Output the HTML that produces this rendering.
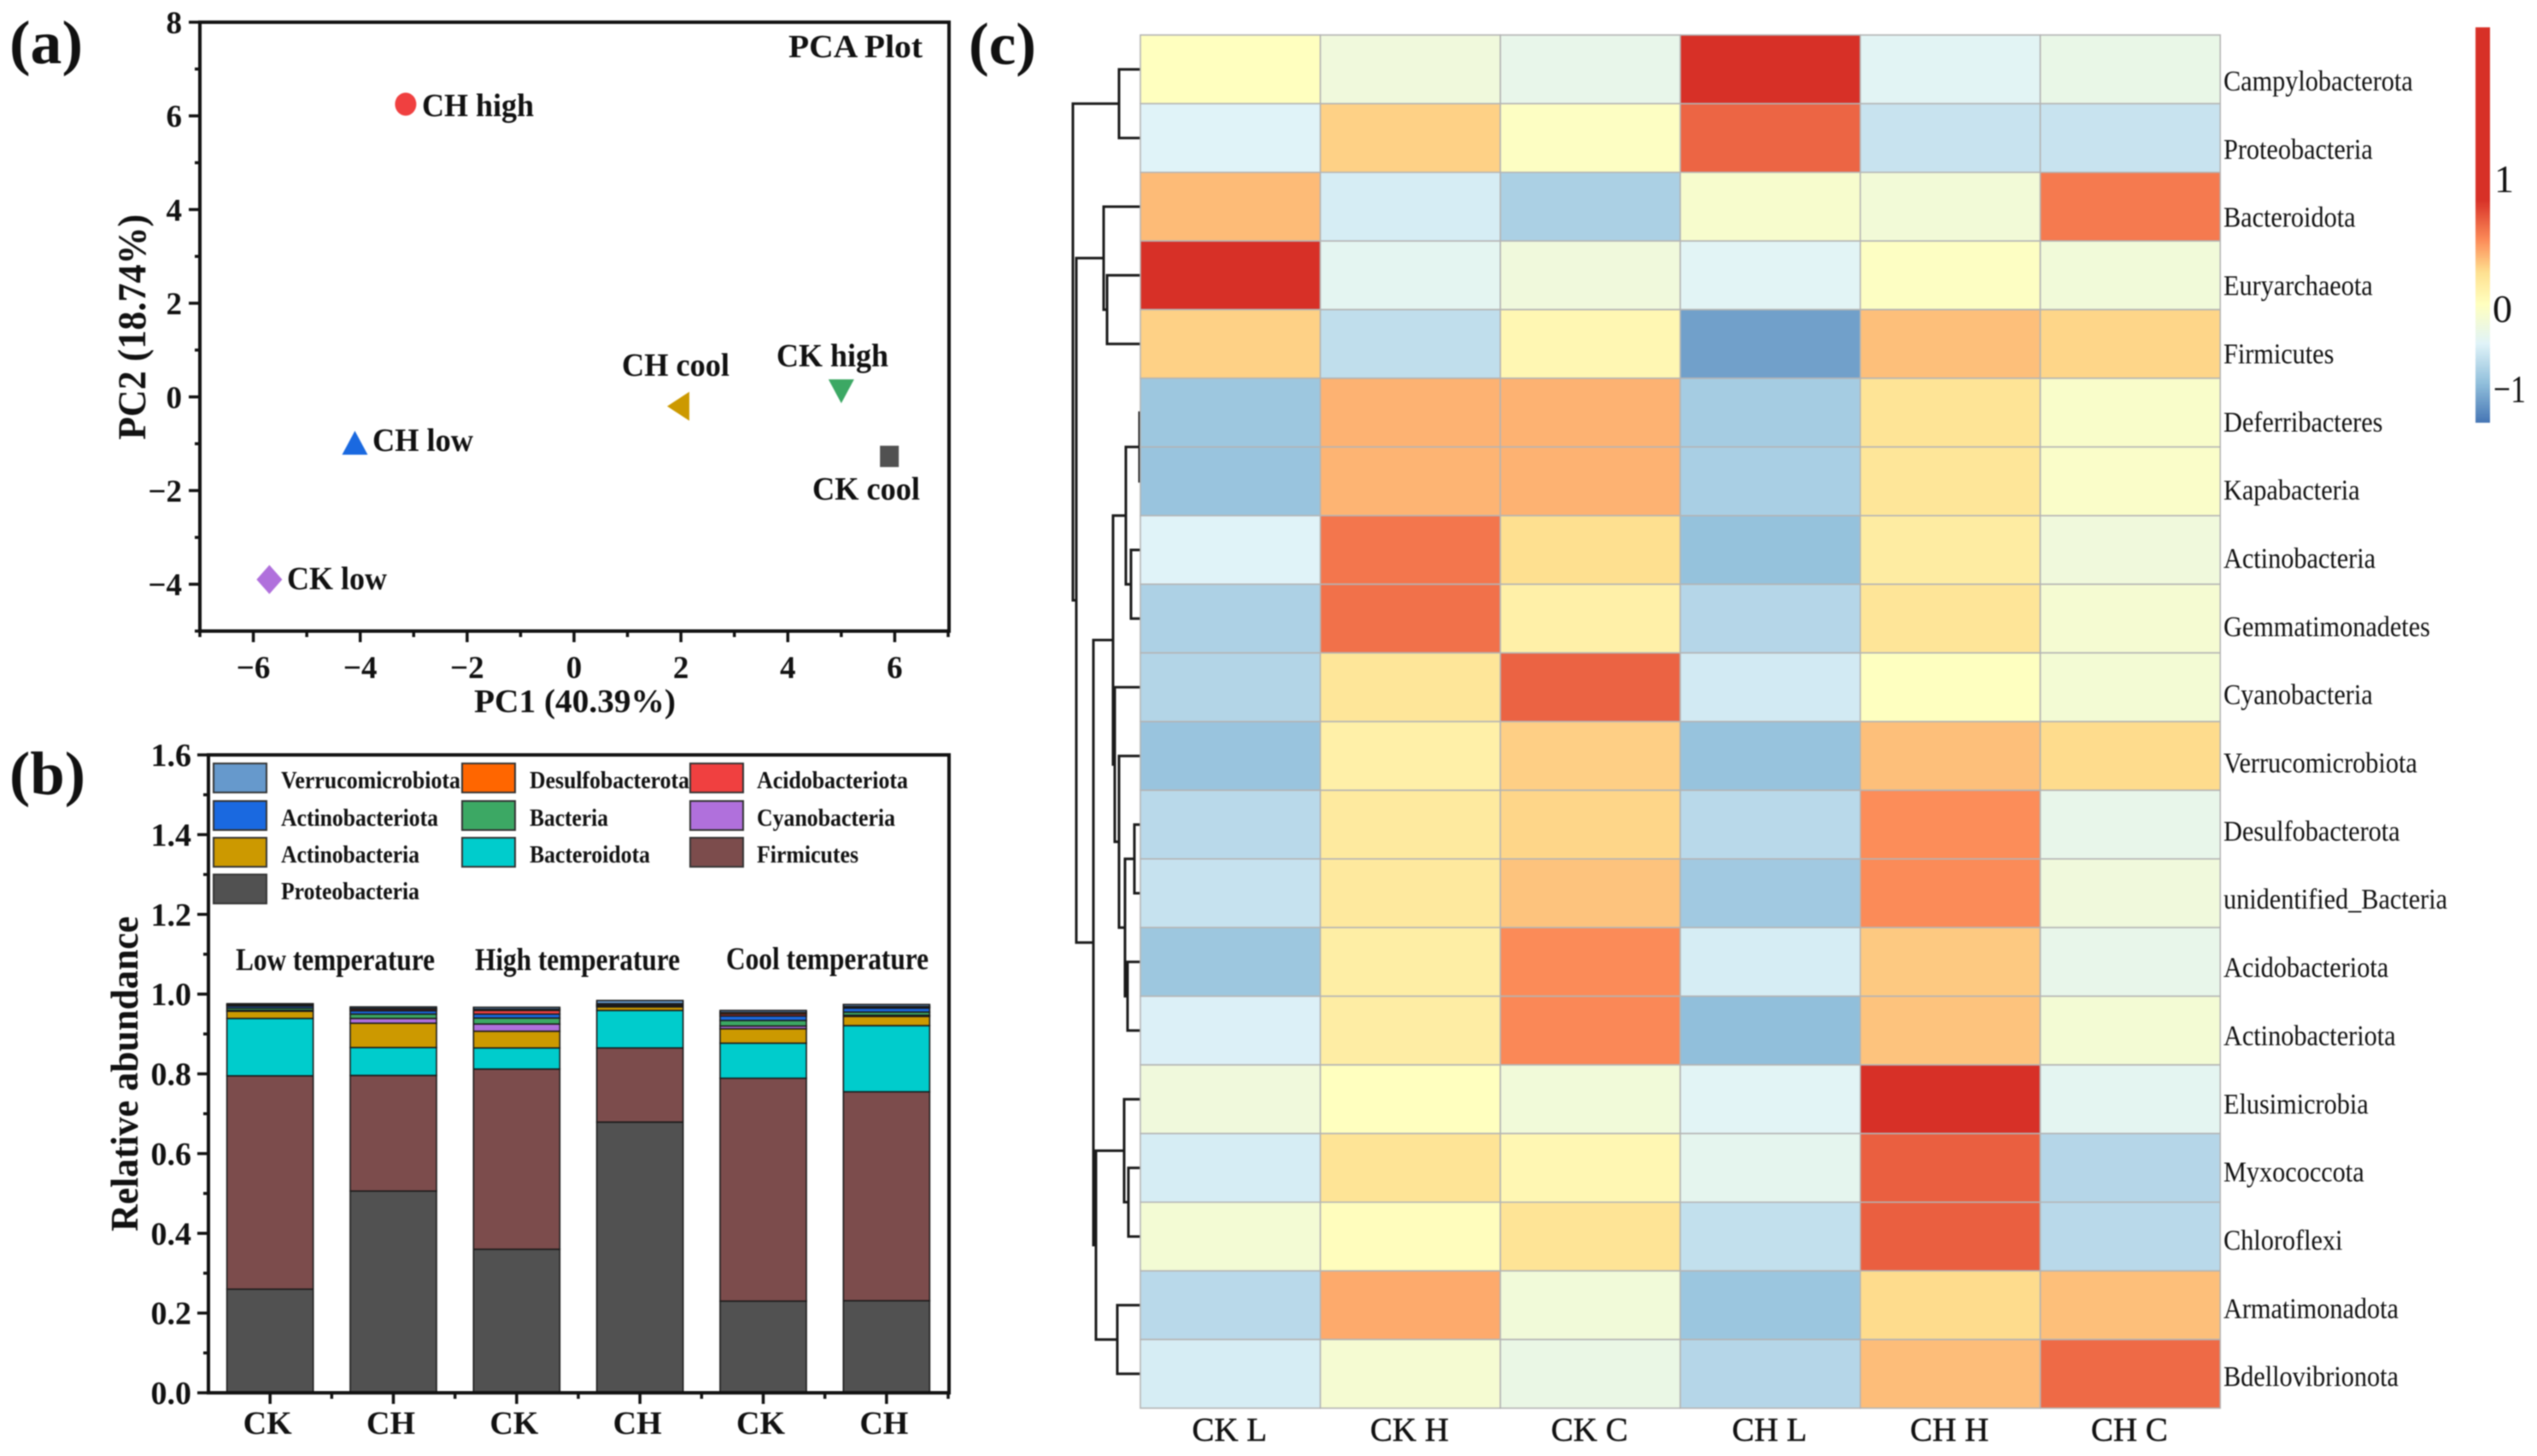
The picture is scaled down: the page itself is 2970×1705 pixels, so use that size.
<!DOCTYPE html>
<html lang="en">
<head>
<meta charset="utf-8">
<title>PCA, relative abundance and heatmap figure</title>
<style>
html,body{margin:0;padding:0;background:#fff;}
#figure{display:block;width:2970px;height:1705px;filter:blur(0.7px);}
text{font-family:"Liberation Serif",serif;fill:#111;}
.b{font-weight:bold;}
</style>
</head>
<body>
<svg id="figure" xmlns="http://www.w3.org/2000/svg" width="2970" height="1705" viewBox="0 0 2970 1705">
  <defs>
    <linearGradient id="cbGrad" x1="0" y1="0" x2="0" y2="1">
      <stop offset="0" stop-color="#D73027"/>
      <stop offset="0.436" stop-color="#D73027"/>
      <stop offset="0.54" stop-color="#FC8D59"/>
      <stop offset="0.62" stop-color="#FEE090"/>
      <stop offset="0.70" stop-color="#FFFFBF"/>
      <stop offset="0.80" stop-color="#E0F3F8"/>
      <stop offset="0.90" stop-color="#91BFDB"/>
      <stop offset="1" stop-color="#4575B4"/>
    </linearGradient>
  </defs>
  <rect x="0" y="0" width="2970" height="1705" fill="#fff"/>

  <text class="b" x="11" y="74" font-size="72" textLength="86" lengthAdjust="spacingAndGlyphs">(a)</text>
  <text class="b" x="11" y="930" font-size="72" textLength="89" lengthAdjust="spacingAndGlyphs">(b)</text>
  <text class="b" x="1134" y="75" font-size="70" textLength="79" lengthAdjust="spacingAndGlyphs">(c)</text>

  <g id="pca">
    <rect x="234" y="26" width="877" height="713" fill="none" stroke="#111" stroke-width="4"/>
    <g id="pca-axes"></g>
    <g id="pca-points"></g>
    <text class="b" x="923" y="67" font-size="38" textLength="157" lengthAdjust="spacingAndGlyphs">PCA Plot</text>
    <text class="b" x="555" y="834" font-size="39" textLength="236" lengthAdjust="spacingAndGlyphs">PC1 (40.39%)</text>
    <text class="b" transform="translate(170,515) rotate(-90)" x="0" y="0" font-size="47" textLength="264" lengthAdjust="spacingAndGlyphs">PC2 (18.74%)</text>
    <text class="b" x="494" y="136" font-size="38" textLength="131" lengthAdjust="spacingAndGlyphs">CH high</text>
    <text class="b" x="436" y="528" font-size="38" textLength="118" lengthAdjust="spacingAndGlyphs">CH low</text>
    <text class="b" x="336" y="690" font-size="38" textLength="117" lengthAdjust="spacingAndGlyphs">CK low</text>
    <text class="b" x="728" y="440" font-size="38" textLength="126" lengthAdjust="spacingAndGlyphs">CH cool</text>
    <text class="b" x="909" y="429" font-size="38" textLength="131" lengthAdjust="spacingAndGlyphs">CK high</text>
    <text class="b" x="951" y="585" font-size="38" textLength="126" lengthAdjust="spacingAndGlyphs">CK cool</text>
  </g>

  <g id="bars">
    <g id="bar-marks"></g>
    <rect x="244" y="884" width="867" height="747" fill="none" stroke="#111" stroke-width="4"/>
    <g id="bar-axes"></g>
    <text class="b" transform="translate(161,1442) rotate(-90)" x="0" y="0" font-size="46" textLength="369" lengthAdjust="spacingAndGlyphs">Relative abundance</text>
    <text class="b" x="276" y="1136" font-size="37" textLength="233" lengthAdjust="spacingAndGlyphs">Low temperature</text>
    <text class="b" x="556" y="1136" font-size="37" textLength="240" lengthAdjust="spacingAndGlyphs">High temperature</text>
    <text class="b" x="850" y="1135" font-size="37" textLength="237" lengthAdjust="spacingAndGlyphs">Cool temperature</text>

    <g>
      <g><rect x="250" y="894" width="62" height="34" fill="#6699CC" stroke="#333" stroke-width="2"/><text class="b" x="329" y="923" font-size="29" textLength="210" lengthAdjust="spacingAndGlyphs">Verrucomicrobiota</text></g>
      <g><rect x="541" y="894" width="62" height="34" fill="#FF6600" stroke="#333" stroke-width="2"/><text class="b" x="620" y="923" font-size="29" textLength="187" lengthAdjust="spacingAndGlyphs">Desulfobacterota</text></g>
      <g><rect x="808" y="894" width="62" height="34" fill="#F04040" stroke="#333" stroke-width="2"/><text class="b" x="886" y="923" font-size="29" textLength="177" lengthAdjust="spacingAndGlyphs">Acidobacteriota</text></g>
      <g><rect x="250" y="938" width="62" height="34" fill="#1A69E0" stroke="#333" stroke-width="2"/><text class="b" x="329" y="967" font-size="29" textLength="184" lengthAdjust="spacingAndGlyphs">Actinobacteriota</text></g>
      <g><rect x="541" y="938" width="62" height="34" fill="#3CA864" stroke="#333" stroke-width="2"/><text class="b" x="620" y="967" font-size="29" textLength="92" lengthAdjust="spacingAndGlyphs">Bacteria</text></g>
      <g><rect x="808" y="938" width="62" height="34" fill="#B070DC" stroke="#333" stroke-width="2"/><text class="b" x="886" y="967" font-size="29" textLength="162" lengthAdjust="spacingAndGlyphs">Cyanobacteria</text></g>
      <g><rect x="250" y="981" width="62" height="34" fill="#CC9900" stroke="#333" stroke-width="2"/><text class="b" x="329" y="1010" font-size="29" textLength="162" lengthAdjust="spacingAndGlyphs">Actinobacteria</text></g>
      <g><rect x="541" y="981" width="62" height="34" fill="#00CCCC" stroke="#333" stroke-width="2"/><text class="b" x="620" y="1010" font-size="29" textLength="141" lengthAdjust="spacingAndGlyphs">Bacteroidota</text></g>
      <g><rect x="808" y="981" width="62" height="34" fill="#7C4C4C" stroke="#333" stroke-width="2"/><text class="b" x="886" y="1010" font-size="29" textLength="119" lengthAdjust="spacingAndGlyphs">Firmicutes</text></g>
      <g><rect x="250" y="1024" width="62" height="34" fill="#515151" stroke="#333" stroke-width="2"/><text class="b" x="329" y="1053" font-size="29" textLength="162" lengthAdjust="spacingAndGlyphs">Proteobacteria</text></g>
    </g>
  </g>

  <g id="heatmap">
    <g id="dendrogram"></g>
    <g id="heat-cells"></g>
    <g id="heat-row-labels"></g>
    <g id="heat-col-labels"></g>
    <g>
      <rect x="2898" y="32" width="17" height="463" fill="url(#cbGrad)"/>
      <text x="2920" y="225" font-size="46">1</text>
      <text x="2918" y="377" font-size="46">0</text>
      <text x="2919" y="471" font-size="46" textLength="38" lengthAdjust="spacingAndGlyphs">−1</text>
    </g>
  </g>
</svg>

<script>
/* ---------- PCA data ---------- */
const pointNames = ["CK cool", "CH high", "CH low", "CK high", "CH cool", "CK low"];
const pc1Values = [5.9, -3.15, -4.1, 5.0, 1.95, -5.7];
const pc2Values = [-1.27, 6.25, -0.98, 0.12, -0.2, -3.9];
const pointShapes = ["square", "circle", "up", "down", "left", "diamond"];
const pointColors = ["#515151", "#F04040", "#1A69E0", "#3CA864", "#CC9900", "#B070DC"];
const pcaXTicks = [-6, -4, -2, 0, 2, 4, 6];
const pcaYTicks = [-4, -2, 0, 2, 4, 6, 8];

/* ---------- stacked bar data ---------- */
const barCategories = ["CK", "CH", "CK", "CH", "CK", "CH"];
const proteobacteria = [0.26, 0.506, 0.36, 0.679, 0.23, 0.231];
const firmicutes = [0.535, 0.29, 0.452, 0.186, 0.559, 0.524];
const bacteroidota = [0.144, 0.07, 0.053, 0.094, 0.088, 0.166];
const actinobacteria = [0.018, 0.061, 0.042, 0.009, 0.036, 0.023];
const cyanobacteria = [0.002, 0.012, 0.018, 0.001, 0.007, 0.003];
const bacteria = [0.006, 0.011, 0.015, 0.002, 0.014, 0.008];
const actinobacteriota = [0.005, 0.008, 0.01, 0.001, 0.011, 0.01];
const acidobacteriota = [0.002, 0.004, 0.009, 0.002, 0.005, 0.002];
const desulfobacterota = [0.002, 0.002, 0.003, 0.002, 0.004, 0.002];
const verrucomicrobiota = [0.002, 0.004, 0.005, 0.008, 0.005, 0.005];
const abundanceTicks = ["0.0", "0.2", "0.4", "0.6", "0.8", "1.0", "1.2", "1.4", "1.6"];

/* ---------- heatmap data ---------- */
const heatRows = ["Campylobacterota", "Proteobacteria", "Bacteroidota", "Euryarchaeota", "Firmicutes", "Deferribacteres", "Kapabacteria", "Actinobacteria", "Gemmatimonadetes", "Cyanobacteria", "Verrucomicrobiota", "Desulfobacterota", "unidentified_Bacteria", "Acidobacteriota", "Actinobacteriota", "Elusimicrobia", "Myxococcota", "Chloroflexi", "Armatimonadota", "Bdellovibrionota"];
const heatCols = ["CK L", "CK H", "CK C", "CH L", "CH H", "CH C"];
const heatValues = [
  [0, -0.2, -0.3, 1.2, -0.37, -0.28],
  [-0.4, 0.47, -0.03, 0.97, -0.52, -0.52],
  [0.58, -0.45, -0.67, -0.1, -0.17, 0.88],
  [1.2, -0.35, -0.2, -0.38, -0.03, -0.18],
  [0.47, -0.56, 0.1, -0.97, 0.56, 0.45],
  [-0.74, 0.62, 0.62, -0.7, 0.35, -0.08],
  [-0.76, 0.61, 0.62, -0.68, 0.32, -0.07],
  [-0.4, 0.9, 0.4, -0.78, 0.25, -0.2],
  [-0.66, 0.92, 0.2, -0.62, 0.33, -0.13],
  [-0.63, 0.32, 0.98, -0.47, -0.01, -0.15],
  [-0.76, 0.2, 0.48, -0.77, 0.56, 0.42],
  [-0.6, 0.27, 0.45, -0.6, 0.8, -0.3],
  [-0.53, 0.28, 0.54, -0.72, 0.81, -0.2],
  [-0.74, 0.22, 0.81, -0.45, 0.51, -0.3],
  [-0.42, 0.23, 0.82, -0.8, 0.54, -0.15],
  [-0.2, 0, -0.18, -0.38, 1.2, -0.35],
  [-0.45, 0.35, 0.1, -0.33, 1.0, -0.62],
  [-0.15, 0.02, 0.35, -0.55, 1.0, -0.6],
  [-0.6, 0.66, -0.18, -0.75, 0.42, 0.56],
  [-0.45, -0.13, -0.27, -0.62, 0.57, 0.95]
];
/* dendrogram: [merge height, left child, right child]; integers are row indexes */
const dendroTree = [79,
  [25, 0, 1],
  [75,
    [43, 2, [39, 3, 4]],
    [55,
      [32,
        [17, [1, 5, 6], [11, 7, 8]],
        [30, 9, [25, 10, [18, [7, 11, 12], [15, 13, 14]]]]
      ],
      [52, [19, 15, [14, 16, 17]], [27, 18, 19]]
    ]
  ]
];

/* ---------- helpers ---------- */
const SVG_NS = "http://www.w3.org/2000/svg";
function make(parent, tag, attrs) {
  const el = document.createElementNS(SVG_NS, tag);
  for (const k in attrs) el.setAttribute(k, attrs[k]);
  parent.appendChild(el);
  return el;
}
function linear(d0, d1, r0, r1) {
  return function (v) { return r0 + (v - d0) * (r1 - r0) / (d1 - d0); };
}
function slug(s) { return s.toLowerCase().replace(/[^a-z0-9]+/g, "-"); }
function minusText(v) { return v < 0 ? "\u2212" + Math.abs(v) : String(v); }

/* ---------- PCA ---------- */
const pcaX = linear(-7, 7, 234, 1110);
const pcaY = linear(-5, 8, 739, 26);
const pcaAxes = document.getElementById("pca-axes");
const pcaPoints = document.getElementById("pca-points");
for (let v = -7; v <= 7; v++) {
  const major = pcaXTicks.indexOf(v) >= 0;
  const tick = make(pcaAxes, "line", {x1: pcaX(v), x2: pcaX(v), y1: 739, y2: major ? 752 : 746, stroke: "#111", "stroke-width": 3.5});
  
  
}
for (let v = -5; v <= 8; v++) {
  const major = pcaYTicks.indexOf(v) >= 0;
  const tick = make(pcaAxes, "line", {x1: 234, x2: major ? 221 : 228, y1: pcaY(v), y2: pcaY(v), stroke: "#111", "stroke-width": 3.5});
  
  
}
pcaXTicks.forEach(function (v) {
  const t = make(pcaAxes, "text", {x: pcaX(v), y: 794, "font-size": 37, "text-anchor": "middle", "class": "b"});
  t.textContent = minusText(v);
  
  
});
pcaYTicks.forEach(function (v) {
  const t = make(pcaAxes, "text", {x: 213, y: pcaY(v) + 13, "font-size": 37, "text-anchor": "end", "class": "b"});
  t.textContent = minusText(v);
  
  
});
pointNames.forEach(function (name, i) {
  const cx = pcaX(pc1Values[i]);
  const cy = pcaY(pc2Values[i]);
  const c = pointColors[i];
  const s = pointShapes[i];
  let mark;
  if (s === "circle") {
    mark = make(pcaPoints, "ellipse", {cx: cx, cy: cy, rx: 12.5, ry: 13.5, fill: c});
  } else if (s === "square") {
    mark = make(pcaPoints, "rect", {x: cx - 11, y: cy - 12.5, width: 22, height: 25, fill: c});
  } else {
    let pts;
    if (s === "up") pts = [[cx, cy - 14], [cx + 15, cy + 14], [cx - 15, cy + 14]];
    if (s === "down") pts = [[cx - 15, cy - 14], [cx + 15, cy - 14], [cx, cy + 14]];
    if (s === "left") pts = [[cx - 13, cy], [cx + 13, cy - 17], [cx + 13, cy + 17]];
    if (s === "diamond") pts = [[cx, cy - 17], [cx + 15, cy], [cx, cy + 17], [cx - 15, cy]];
    mark = make(pcaPoints, "polygon", {points: pts.map(function (p) { return p.join(","); }).join(" "), fill: c});
  }
  
  
});

/* ---------- stacked bars ---------- */
const stackSeries = [proteobacteria, firmicutes, bacteroidota, actinobacteria, cyanobacteria, bacteria, actinobacteriota, acidobacteriota, desulfobacterota, verrucomicrobiota];
const stackNames = ["proteobacteria", "firmicutes", "bacteroidota", "actinobacteria", "cyanobacteria", "bacteria", "actinobacteriota", "acidobacteriota", "desulfobacterota", "verrucomicrobiota"];
const stackColors = ["#515151", "#7C4C4C", "#00CCCC", "#CC9900", "#B070DC", "#3CA864", "#1A69E0", "#F04040", "#FF6600", "#6699CC"];
const barX = linear(0.5, 6.5, 244, 1110);
const barY = linear(0, 1.6, 1631, 884);
const barMarks = document.getElementById("bar-marks");
const barAxes = document.getElementById("bar-axes");
const barBandWidth = 0.7;
barCategories.forEach(function (cat, i) {
  let base = 0;
  stackSeries.forEach(function (vals, s) {
    const top = base + vals[i];
    const left = barX(i + 1 - barBandWidth / 2);
    const right = barX(i + 1 + barBandWidth / 2);
    const seg = make(barMarks, "rect", {x: left, y: barY(top), width: right - left, height: barY(base) - barY(top), fill: stackColors[s], stroke: "#1a1a1a", "stroke-width": 1.6});
    
    
    base = top;
  });
  const tick = make(barAxes, "line", {x1: barX(i + 1), x2: barX(i + 1), y1: 1631, y2: 1644, stroke: "#111", "stroke-width": 3.5});
  
  
  const minor = make(barAxes, "line", {x1: barX(i + 1.5), x2: barX(i + 1.5), y1: 1631, y2: 1638, stroke: "#111", "stroke-width": 3.5});
  
  
  const label = make(barAxes, "text", {x: barX(i + 1) - 3, y: 1679, "font-size": 38, "text-anchor": "middle", "class": "b"});
  label.textContent = cat;
  
  
});
abundanceTicks.forEach(function (label, i) {
  const v = parseFloat(label);
  const tick = make(barAxes, "line", {x1: 244, x2: 231, y1: barY(v), y2: barY(v), stroke: "#111", "stroke-width": 3.5});
  
  
  if (i < abundanceTicks.length - 1) {
    const minor = make(barAxes, "line", {x1: 244, x2: 238, y1: barY(v + 0.1), y2: barY(v + 0.1), stroke: "#111", "stroke-width": 3.5});
    
    
  }
  const t = make(barAxes, "text", {x: 224, y: barY(v) + 13, "font-size": 38, "text-anchor": "end", "class": "b"});
  t.textContent = label;
  
  
});

/* ---------- heatmap ---------- */
const heatLeft = 1335, heatTop = 41, heatCellW = 210.7, heatCellH = 80.4;
const heatX = function (c) { return heatLeft + c * heatCellW; };
const heatY = function (r) { return heatTop + r * heatCellH; };
const colorStops = [[-1.2, [69, 117, 180]], [-0.8, [145, 191, 219]], [-0.4, [224, 243, 248]], [0, [255, 255, 191]], [0.4, [254, 224, 144]], [0.8, [252, 141, 89]], [1.2, [215, 48, 39]]];
function heatColor(v) {
  if (v <= colorStops[0][0]) return "rgb(" + colorStops[0][1].join(",") + ")";
  for (let i = 1; i < colorStops.length; i++) {
    if (v <= colorStops[i][0]) {
      const a = colorStops[i - 1], b = colorStops[i];
      const t = (v - a[0]) / (b[0] - a[0]);
      return "rgb(" + a[1].map(function (x, k) { return Math.round(x + (b[1][k] - x) * t); }).join(",") + ")";
    }
  }
  return "rgb(" + colorStops[colorStops.length - 1][1].join(",") + ")";
}
const heatCells = document.getElementById("heat-cells");
const heatRowLabels = document.getElementById("heat-row-labels");
const heatColLabels = document.getElementById("heat-col-labels");
heatValues.forEach(function (row, r) {
  row.forEach(function (v, c) {
    const cell = make(heatCells, "rect", {x: heatX(c), y: heatY(r), width: heatCellW, height: heatCellH, fill: heatColor(v), stroke: "#b4b4b4", "stroke-width": 1.6});
    
    
  });
  const t = make(heatRowLabels, "text", {transform: "translate(2603," + (106 + r * 79.85) + ") scale(0.89,1)", x: 0, y: 0, "font-size": 34});
  t.textContent = heatRows[r];
  
  
});
heatCols.forEach(function (name, c) {
  const t = make(heatColLabels, "text", {x: heatX(c) + heatCellW / 2 - 1, y: 1687, "font-size": 39, "text-anchor": "middle", stroke: "#111", "stroke-width": 0.5});
  t.textContent = name;
  
  
});

/* ---------- dendrogram ---------- */
const dendro = document.getElementById("dendrogram");
const dendroX = function (h) { return heatLeft - h; };
const leafY = function (r) { return heatY(r) + heatCellH / 2; };
function drawNode(node) {
  if (typeof node === "number") return {x: heatLeft, y: leafY(node)};
  const a = drawNode(node[1]);
  const b = drawNode(node[2]);
  const x = dendroX(node[0]);
  const path = make(dendro, "path", {d: "M" + a.x + " " + a.y + "H" + x + "V" + b.y + "H" + b.x, fill: "none", stroke: "#1a1a1a", "stroke-width": 3});
  
  
  return {x: x, y: (a.y + b.y) / 2};
}
drawNode(dendroTree);
</script>
</body>
</html>
